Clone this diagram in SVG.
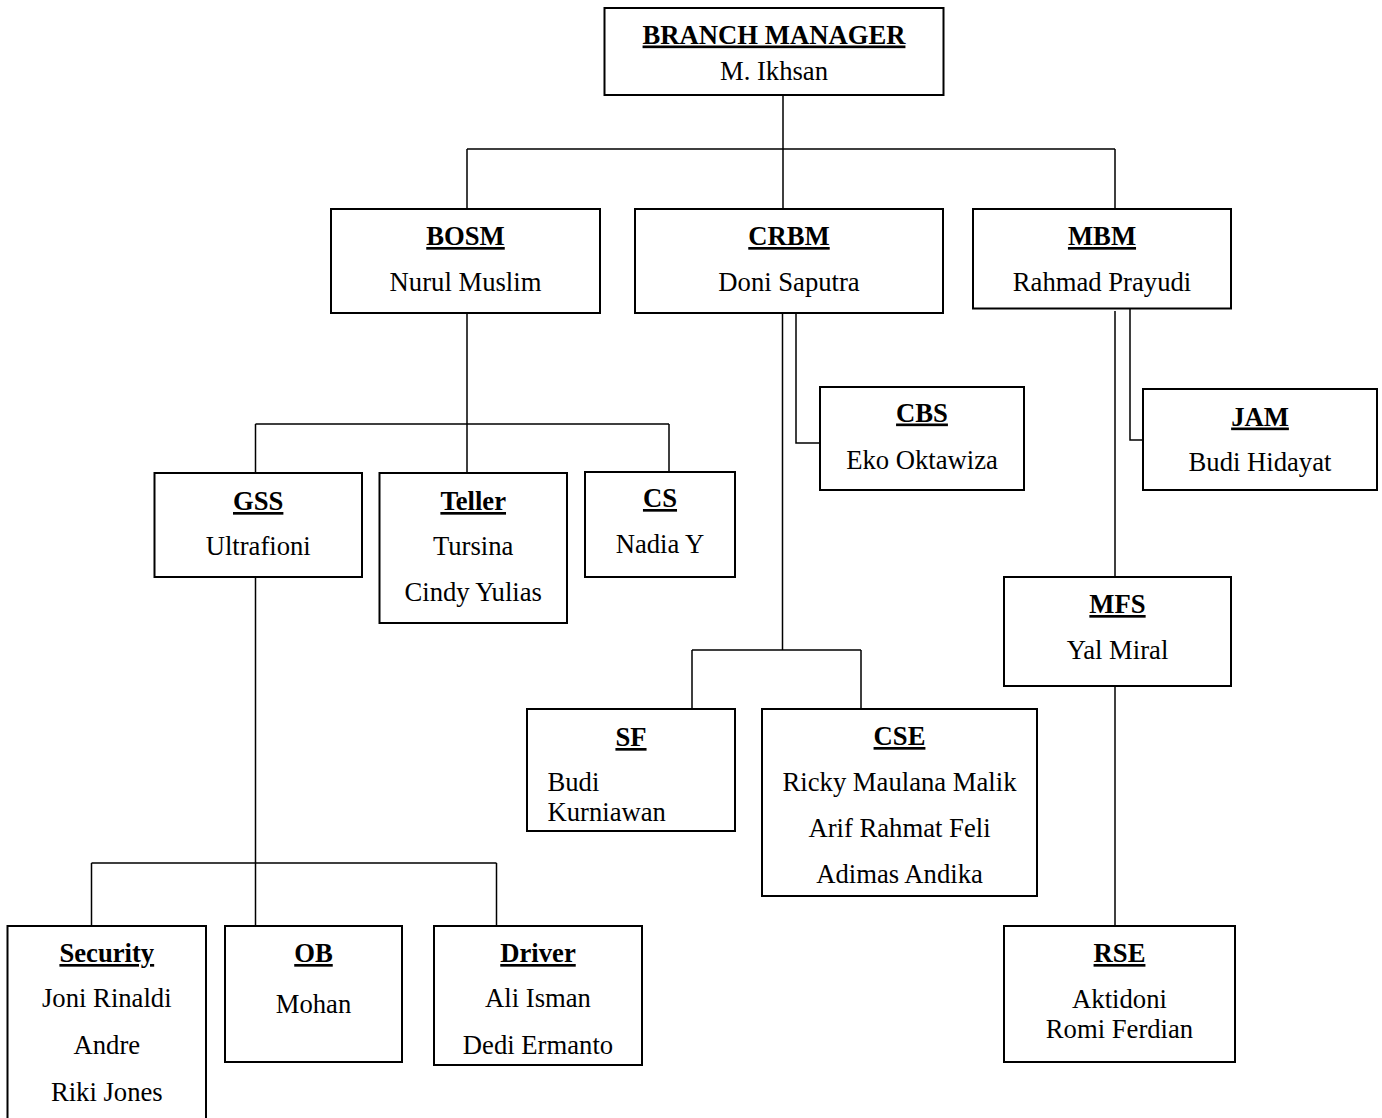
<svg xmlns="http://www.w3.org/2000/svg" width="1382" height="1118" viewBox="0 0 1382 1118">
<style>
.box{fill:#fff;stroke:#000;stroke-width:2}
.con{fill:none;stroke:#000;stroke-width:1.5}
text{font-family:"Liberation Serif","Times New Roman",serif;font-size:26.67px;fill:#000}
.t{font-weight:bold;text-decoration:underline;text-anchor:middle}
.n{text-anchor:middle}
.l{text-anchor:start}
</style>
<rect width="1382" height="1118" fill="#fff"/>
<g id="connectors">
<path class="con" d="M783 95V149M467 149H1115M467 149V209M783 149V209M1115 149V209"/>
<path class="con" d="M467 313V473M255.5 424H669M255.5 424V473M669 424V473"/>
<path class="con" d="M782.5 313V650M692 650H861M692 650V709M861 650V709M796 313V443H820"/>
<path class="con" d="M1115 311V577M1130 308.5V440H1143"/>
<path class="con" d="M1115 686V926"/>
<path class="con" d="M255.5 577V926M91.5 863H496.5M91.5 863V926M496.5 863V926"/>
</g>
<g id="branch-manager">
<rect class="box" x="604.5" y="8" width="339" height="87"/>
<text class="t" x="774" y="43.5">BRANCH MANAGER</text>
<text class="n" x="774" y="80">M. Ikhsan</text>
</g>
<g id="bosm">
<rect class="box" x="331" y="209" width="269" height="104"/>
<text class="t" x="465.5" y="245">BOSM</text>
<text class="n" x="465.5" y="291">Nurul Muslim</text>
</g>
<g id="crbm">
<rect class="box" x="635" y="209" width="308" height="104"/>
<text class="t" x="789" y="245">CRBM</text>
<text class="n" x="789" y="291">Doni Saputra</text>
</g>
<g id="mbm">
<rect class="box" x="973" y="209" width="258" height="99.5"/>
<text class="t" x="1102" y="245">MBM</text>
<text class="n" x="1102" y="291">Rahmad Prayudi</text>
</g>
<g id="gss">
<rect class="box" x="154.5" y="473" width="207.5" height="104"/>
<text class="t" x="258.2" y="510">GSS</text>
<text class="n" x="258.2" y="555">Ultrafioni</text>
</g>
<g id="teller">
<rect class="box" x="379.5" y="473" width="187.5" height="150"/>
<text class="t" x="473.2" y="510">Teller</text>
<text class="n" x="473.2" y="555">Tursina</text>
<text class="n" x="473.2" y="601">Cindy Yulias</text>
</g>
<g id="cs">
<rect class="box" x="585" y="472" width="150" height="105"/>
<text class="t" x="660" y="507">CS</text>
<text class="n" x="660" y="553">Nadia Y</text>
</g>
<g id="cbs">
<rect class="box" x="820" y="387" width="204" height="103"/>
<text class="t" x="922" y="421.5">CBS</text>
<text class="n" x="922" y="469">Eko Oktawiza</text>
</g>
<g id="jam">
<rect class="box" x="1143" y="389" width="234" height="101"/>
<text class="t" x="1260" y="425.5">JAM</text>
<text class="n" x="1260" y="470.5">Budi Hidayat</text>
</g>
<g id="mfs">
<rect class="box" x="1004" y="577" width="227" height="109"/>
<text class="t" x="1117.5" y="613">MFS</text>
<text class="n" x="1117.5" y="659">Yal Miral</text>
</g>
<g id="sf">
<rect class="box" x="527" y="709" width="208" height="122"/>
<text class="t" x="631" y="746">SF</text>
<text class="l" x="547.5" y="791">Budi</text>
<text class="l" x="547.5" y="821">Kurniawan</text>
</g>
<g id="cse">
<rect class="box" x="762" y="709" width="275" height="187"/>
<text class="t" x="899.5" y="745">CSE</text>
<text class="n" x="899.5" y="791">Ricky Maulana Malik</text>
<text class="n" x="899.5" y="837">Arif Rahmat Feli</text>
<text class="n" x="899.5" y="883">Adimas Andika</text>
</g>
<g id="rse">
<rect class="box" x="1004" y="926" width="231" height="136"/>
<text class="t" x="1119.5" y="962">RSE</text>
<text class="n" x="1119.5" y="1008">Aktidoni</text>
<text class="n" x="1119.5" y="1038">Romi Ferdian</text>
</g>
<g id="security">
<rect class="box" x="7.5" y="926" width="198.5" height="200"/>
<text class="t" x="106.8" y="962">Security</text>
<text class="n" x="106.8" y="1007">Joni Rinaldi</text>
<text class="n" x="106.8" y="1054">Andre</text>
<text class="n" x="106.8" y="1101">Riki Jones</text>
</g>
<g id="ob">
<rect class="box" x="225" y="926" width="177" height="136"/>
<text class="t" x="313.5" y="962">OB</text>
<text class="n" x="313.5" y="1013">Mohan</text>
</g>
<g id="driver">
<rect class="box" x="434" y="926" width="208" height="139"/>
<text class="t" x="538" y="962">Driver</text>
<text class="n" x="538" y="1007">Ali Isman</text>
<text class="n" x="538" y="1054">Dedi Ermanto</text>
</g>
</svg>
